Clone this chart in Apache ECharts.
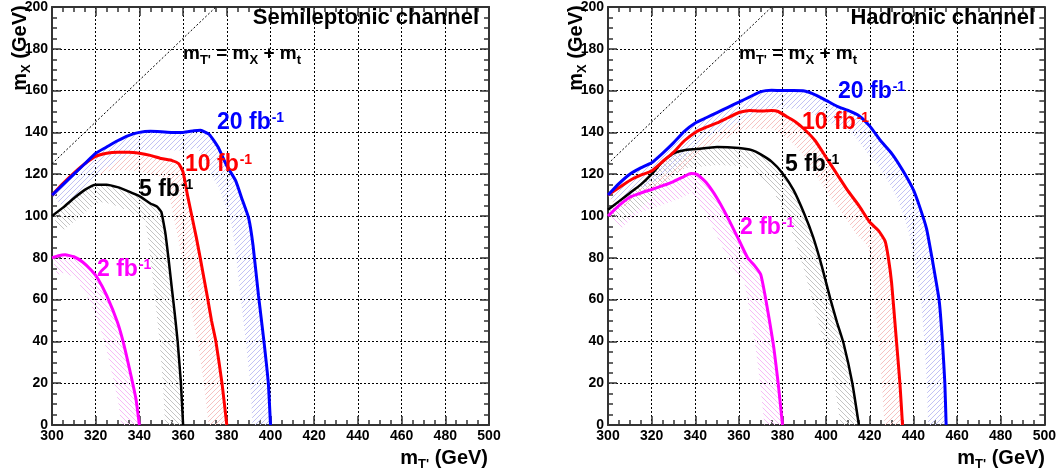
<!DOCTYPE html>
<html>
<head>
<meta charset="utf-8">
<script src="https://cdn.jsdelivr.net/npm/echarts@6/dist/echarts.min.js"></script>
<style>
  html, body { margin: 0; padding: 0; background: #fff; }
  #chart { width: 1059px; height: 475px; }
</style>
</head>
<body>
<div id="chart"></div>
<script>
// Expected exclusion contours in the (m_T', m_X) plane, in GeV.
// Each contour is a list of [m_T', m_X] points.

// Semileptonic channel
const semi2  = [[300,80],[303,81],[306,81.4],[310,80.5],[314,78],[318,74],[321,70],[325,62],[330,49],[333,38],[336.5,22],[338.5,12],[340,0]];
const semi5  = [[300,100],[305,104],[310,108.5],[315,112.5],[320,115],[325,115],[330,113.8],[335,111.8],[340,109.5],[345,106],[348,104.5],[350,102],[351,97],[352,91],[353.5,78],[355,64],[356,55],[357.5,40],[359,20],[360,0]];
const semi10 = [[300,110],[305,115.5],[310,120.5],[315,125],[320,128.5],[325,130],[330,130.5],[335,130.5],[340,130],[345,129],[350,127.5],[355,126.5],[358,125],[360,121],[362,110],[364,100],[366,90],[368,79],[371,62],[373,50],[375,40],[377.8,20],[380,0]];
const semi20 = [[300,110],[305,115],[310,120],[315,125],[320,130],[325,133],[330,136],[335,138.5],[340,140],[345,140.5],[350,140.3],[355,140],[360,140],[365,140.8],[368,141],[372,139],[376,133],[380,124],[384,117],[387,108],[390,99],[392,86],[394.5,62],[397,40],[399,20],[400,0]];

// Hadronic channel
const hadr2  = [[300,100],[305,105],[310,109],[315,111],[320,112.7],[325,114.5],[330,116.5],[335,119],[338,120.3],[341,119.8],[345,116],[350,108.5],[355,99],[360,88.5],[364,80],[367,76.5],[370,72],[372,62],[374,50],[376,37],[378,20],[380,0]];
const hadr5  = [[300,103],[305,107],[310,111],[315,115],[320,120],[325,126],[330,130],[335,131.5],[340,132],[350,133],[360,132.5],[366,131.5],[370,129.5],[375,126],[380,120.5],[385,112.5],[390,101],[394,90],[398,76],[402,60],[405,49],[408,39],[412,20],[415,0]];
const hadr10 = [[300,110],[305,113.5],[310,117],[315,119.5],[320,121.5],[325,126],[330,130.5],[335,136],[340,140],[345,142.5],[350,144.5],[355,147],[360,149.5],[365,150.5],[370,150.2],[375,150.5],[378,150],[382,147.5],[386,145],[390,141.5],[395,136],[400,128],[405,120],[410,112],[415,105],[420,97],[424,93],[427,88],[428.5,80],[430,68],[432,43],[433.8,20],[435,0]];
const hadr20 = [[300,110],[305,115.5],[310,120],[315,123],[320,125.5],[325,130],[330,135],[335,140.5],[340,144.5],[345,147],[350,149.5],[355,152],[360,154.5],[365,157],[370,159.5],[375,160.2],[380,160],[385,160],[390,159.8],[395,158],[400,155.3],[405,152.5],[410,150.5],[415,148],[420,143],[425,136],[430,130],[435,122],[440,112.5],[443,104],[446,94],[448.5,80],[451.8,59.5],[453.3,40],[454.4,20],[455,0]];

// Kinematic limit m_T' = m_X + m_t
const kinLimit = [[300,125],[375,200]];

// Axis ranges
const xRange = { min: 300, max: 500, step: 20 };
const yRange = { min: 0, max: 200, step: 20 };

const FONT = 'Liberation Sans, Arial, Helvetica, sans-serif';
const BLUE = '#0000ff', RED = '#ff0000', BLACK = '#000000', MAGENTA = '#ff00ff';
const FRAME = '#333';
const BAND_WIDTH = 18;   // hatched band width in px
const HATCH_STEP = 5;    // horizontal spacing of hatch lines in px

// Pale hatch colours for each luminosity band
const HATCH = { m: '#f6bcf6', k: '#c4c4c4', r: '#f6c2c2', b: '#c2c2f4' };

// Diagonal hatch lines clipped to a polygon; dir > 0 draws '/', otherwise '\'
function hatchPath(poly, dir) {
  const s = dir > 0 ? 1 : -1;
  const u = poly.map(q => q[0] + s * q[1]);
  const umin = Math.min.apply(null, u), umax = Math.max.apply(null, u);
  let d = '';
  for (let c = Math.ceil(umin / HATCH_STEP) * HATCH_STEP; c <= umax; c += HATCH_STEP) {
    const hits = [];
    for (let i = 0; i < poly.length; i++) {
      const j = (i + 1) % poly.length;
      const ua = u[i], ub = u[j];
      if ((ua <= c) !== (ub <= c)) {
        const t = (c - ua) / (ub - ua);
        hits.push([poly[i][0] + t * (poly[j][0] - poly[i][0]), poly[i][1] + t * (poly[j][1] - poly[i][1])]);
      }
    }
    hits.sort((a, b) => a[0] - b[0]);
    for (let k = 0; k + 1 < hits.length; k += 2) {
      d += 'M' + hits[k][0].toFixed(2) + ' ' + hits[k][1].toFixed(2) +
           'L' + hits[k + 1][0].toFixed(2) + ' ' + hits[k + 1][1].toFixed(2);
    }
  }
  return d;
}

// Hatched strip on the excluded (lower-left) side of a contour
function band(pts, color, dir, idx) {
  return {
    type: 'custom', xAxisIndex: idx * 2, yAxisIndex: idx * 2,
    data: [0], z: 1, silent: true, clip: true,
    renderItem(params, api) {
      const p = pts.map(d => api.coord(d));
      const n = p.length;
      const seg = [];
      for (let i = 0; i < n - 1; i++) {
        const dx = p[i + 1][0] - p[i][0], dy = p[i + 1][1] - p[i][1];
        const L = Math.hypot(dx, dy) || 1;
        seg.push([-dy / L, dx / L]);
      }
      const inner = p.map((q, i) => {
        const a = seg[Math.max(0, i - 1)], b = seg[Math.min(n - 2, i)];
        const nx = a[0] + b[0], ny = a[1] + b[1];
        const L = Math.hypot(nx, ny) || 1;
        return [q[0] + nx / L * BAND_WIDTH, q[1] + ny / L * BAND_WIDTH];
      });
      const poly = p.concat(inner.reverse());
      return {
        type: 'path',
        shape: { pathData: hatchPath(poly, dir) },
        style: { fill: null, stroke: color, lineWidth: 1 }
      };
    }
  };
}

function contour(pts, color, width, idx) {
  return {
    type: 'line', xAxisIndex: idx * 2, yAxisIndex: idx * 2,
    data: pts, showSymbol: false, smooth: 0.15, z: 3, clip: true, silent: true,
    lineStyle: { color: color, width: width }
  };
}

function kinLine(idx) {
  return {
    type: 'line', xAxisIndex: idx * 2, yAxisIndex: idx * 2,
    data: kinLimit, showSymbol: false, z: 2, silent: true,
    lineStyle: { color: '#000', width: 1, type: [2, 2] }
  };
}

function axisPair(kind, gridIndex, range) {
  const isX = kind === 'x';
  const common = {
    gridIndex: gridIndex, type: 'value',
    min: range.min, max: range.max, interval: range.step,
    axisLine: { show: true, onZero: false, lineStyle: { color: FRAME, width: 2 } },
    axisTick: { show: true, inside: true, length: 9, lineStyle: { color: FRAME, width: 1.5 } },
    minorTick: { show: true, splitNumber: 4, length: 5, lineStyle: { color: FRAME, width: 1.5 } }
  };
  const main = Object.assign({}, common, {
    position: isX ? 'bottom' : 'left',
    axisLabel: { show: true, margin: 4, fontSize: 14, fontWeight: 'bold', color: '#000', fontFamily: FONT },
    splitLine: { show: true, lineStyle: { color: '#000', width: 1, type: [2, 2] } }
  });
  const mirror = Object.assign({}, common, {
    position: isX ? 'top' : 'right',
    axisLabel: { show: false },
    splitLine: { show: false }
  });
  return [main, mirror];
}

// Rich text styles
const rich = {
  big:  { fontSize: 23, fontWeight: 'bold', fontFamily: FONT, lineHeight: 23, verticalAlign: 'top' },
  sup:  { fontSize: 14, fontWeight: 'bold', fontFamily: FONT, lineHeight: 14, verticalAlign: 'top', padding: [0, 0, 0, 1] },
  fm:   { fontSize: 19, fontWeight: 'bold', fontFamily: FONT, lineHeight: 19, verticalAlign: 'top' },
  fs:   { fontSize: 13, fontWeight: 'bold', fontFamily: FONT, lineHeight: 13, verticalAlign: 'top', padding: [9, 0, 0, 0] },
  am:   { fontSize: 20, fontWeight: 'bold', fontFamily: FONT, lineHeight: 20, verticalAlign: 'top' },
  as:   { fontSize: 13, fontWeight: 'bold', fontFamily: FONT, lineHeight: 13, verticalAlign: 'top', padding: [10, 0, 0, 0] }
};

function txt(x, y, text, color, align, rotation) {
  return {
    type: 'text', x: x, y: y, rotation: rotation || 0, z: 10, silent: true,
    style: { text: text, fill: color, align: align || 'left', verticalAlign: 'middle', rich: rich,
             font: 'bold 22px ' + FONT }
  };
}

const lumi = (n) => '{big|' + n + ' fb}{sup|-1}';
const formula = '{fm|m}{fs|T\'}{fm| = m}{fs|X}{fm| + m}{fs|t}';
const yTitle = '{am|m}{as|X}{am| (GeV)}';
const xTitle = '{am|m}{as|T\'}{am| (GeV)}';

const xs0 = axisPair('x', 0, xRange), ys0 = axisPair('y', 0, yRange);
const xs1 = axisPair('x', 1, xRange), ys1 = axisPair('y', 1, yRange);

const option = {
  backgroundColor: '#fff',
  animation: false,
  grid: [
    { left: 52, top: 5, width: 437, height: 420 },
    { left: 608, top: 5, width: 437, height: 420 }
  ],
  xAxis: [xs0[0], xs0[1], xs1[0], xs1[1]],
  yAxis: [ys0[0], ys0[1], ys1[0], ys1[1]],
  series: [
    band(semi2, HATCH.m, -1, 0),
    band(semi5, HATCH.k, -1, 0),
    band(semi10, HATCH.r, 1, 0),
    band(semi20, HATCH.b, 1, 0),
    kinLine(0),
    contour(semi2, MAGENTA, 3, 0),
    contour(semi5, BLACK, 2.5, 0),
    contour(semi10, RED, 3, 0),
    contour(semi20, BLUE, 3, 0),

    band(hadr2, HATCH.m, -1, 1),
    band(hadr5, HATCH.k, -1, 1),
    band(hadr10, HATCH.r, 1, 1),
    band(hadr20, HATCH.b, 1, 1),
    kinLine(1),
    contour(hadr2, MAGENTA, 3, 1),
    contour(hadr5, BLACK, 2.5, 1),
    contour(hadr10, RED, 3, 1),
    contour(hadr20, BLUE, 3, 1)
  ],
  graphic: [
    // Semileptonic panel
    txt(479, 18, 'Semileptonic channel', '#000', 'right'),
    txt(183, 54, formula, '#000'),
    txt(217, 123, lumi(20), BLUE),
    txt(185, 165, lumi(10), RED),
    txt(139, 190, lumi(5), BLACK),
    txt(97, 270, lumi(2), MAGENTA),
    txt(20, 48, yTitle, '#000', 'center', Math.PI / 2),
    txt(488, 458, xTitle, '#000', 'right'),
    // Hadronic panel
    txt(1035, 18, 'Hadronic channel', '#000', 'right'),
    txt(739, 54, formula, '#000'),
    txt(838, 92, lumi(20), BLUE),
    txt(802, 123, lumi(10), RED),
    txt(785, 165, lumi(5), BLACK),
    txt(740, 228, lumi(2), MAGENTA),
    txt(576, 48, yTitle, '#000', 'center', Math.PI / 2),
    txt(1045, 458, xTitle, '#000', 'right')
  ]
};

const chart = echarts.init(document.getElementById('chart'), null, { renderer: 'canvas' });
chart.setOption(option);
</script>
</body>
</html>
